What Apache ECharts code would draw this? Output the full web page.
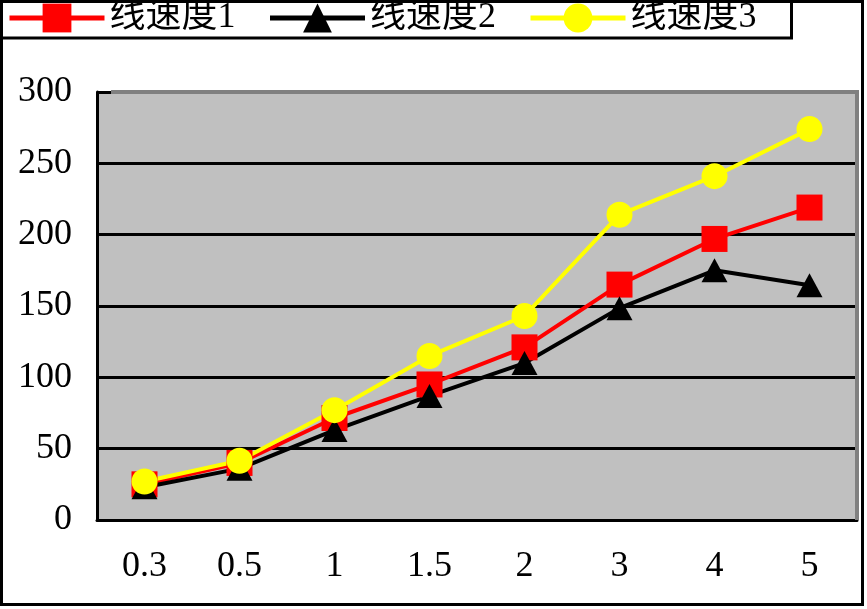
<!DOCTYPE html>
<html><head><meta charset="utf-8">
<script src="https://cdn.jsdelivr.net/npm/echarts@6/dist/echarts.min.js"></script>
<style>html,body{margin:0;padding:0;background:#fff}#c{width:867px;height:609px}</style>
</head><body><div id="c"></div>
<script>
const categories = ['0.3', '0.5', '1', '1.5', '2', '3', '4', '5'];
const seriesNames = ['线速度1', '线速度2', '线速度3'];
const speed1 = [25, 40, 71.5, 95, 121, 165, 197, 219];
const speed2 = [23, 36, 63, 87, 110, 148.5, 175, 164.5];
const speed3 = [27, 41.5, 77, 115, 143, 214, 241, 274];
const yTicks = { min: 0, max: 300, interval: 50 };

const FONT = '"Liberation Serif", "Noto Sans CJK SC", serif';
const G = { left: 97, right: 10, top: 92, bottom: 89 };
const W = 867, H = 609;

const chart = echarts.init(document.getElementById('c'), null, { renderer: 'canvas' });
function mk(name, data, color, symbol, size) {
  return {
    name, type: 'line', data, symbol, symbolSize: size,
    itemStyle: { color, opacity: 1 },
    lineStyle: { color, width: 4 },
    animation: false
  };
}
chart.setOption({
  animation: false,
  backgroundColor: '#fff',
  legend: {
    left: 0, top: -9,
    padding: [9, 35, 2, 7],
    itemWidth: 95, itemHeight: 36, itemGap: 32,
    borderColor: '#000', borderWidth: 3, backgroundColor: '#fff',
    lineStyle: { width: 5 },
    textStyle: { fontFamily: FONT, fontSize: 36, lineHeight: 36, color: '#000' },
    data: seriesNames
  },
  grid: { left: G.left, right: G.right, top: G.top, bottom: G.bottom, show: true,
          backgroundColor: '#C0C0C0', borderWidth: 0 },
  xAxis: {
    type: 'category', data: categories, boundaryGap: true,
    axisLine: { lineStyle: { color: '#000', width: 3 } },
    axisTick: { inside: true, length: 12, lineStyle: { color: '#000', width: 3 } },
    axisLabel: { fontFamily: FONT, fontSize: 36, color: '#000', margin: 29 },
    splitLine: { show: false }
  },
  yAxis: {
    type: 'value', min: yTicks.min, max: yTicks.max, interval: yTicks.interval,
    axisLine: { show: true, lineStyle: { color: '#000', width: 3 } },
    axisTick: { show: false },
    axisLabel: { fontFamily: FONT, fontSize: 36, color: '#000', margin: 25, padding: [6, 0, 0, 0] },
    splitLine: { show: true, lineStyle: { color: '#000', width: 3 } }
  },
  graphic: [
    { type: 'line', z: 1, shape: { x1: G.left + 14, y1: G.top, x2: W - G.right, y2: G.top },
      style: { stroke: '#808080', lineWidth: 4 } },
    { type: 'line', z: 1, shape: { x1: W - G.right, y1: G.top - 2, x2: W - G.right, y2: H - G.bottom },
      style: { stroke: '#808080', lineWidth: 4 } },
    { type: 'rect', z: 10, shape: { x: 1.5, y: 1.5, width: 861, height: 603 },
      style: { fill: 'none', stroke: '#000', lineWidth: 3 } }
  ],
  series: [
    mk(seriesNames[0], speed1, '#FF0000', 'rect', 26),
    mk(seriesNames[1], speed2, '#000000', 'triangle', [26, 24]),
    mk(seriesNames[2], speed3, '#FFFF00', 'circle', 26)
  ]
});
</script></body></html>
